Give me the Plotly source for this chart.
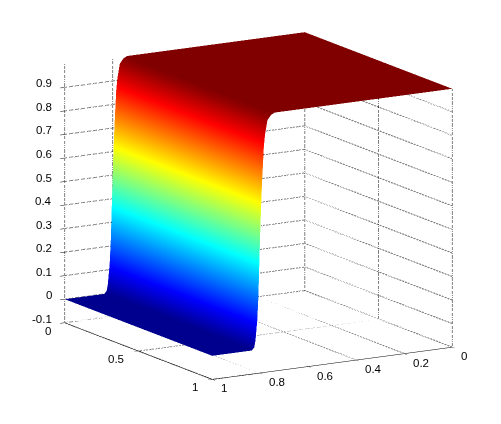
import plotly.graph_objects as go

# values: step profile along x, same for every y
x_grid = [0, 0.74, 0.755, 0.77, 0.78, 0.785, 0.79, 0.795, 0.80, 0.808, 0.8125, 0.82, 0.825, 0.835, 1]
profile = [0.998, 0.998, 0.99, 0.97, 0.91, 0.86, 0.76, 0.65, 0.5, 0.22, 0.124, 0.04, 0.012, 0, 0]
y_grid = [0, 1]

x_ticks = [0, 0.2, 0.4, 0.6, 0.8, 1]
y_ticks = [0, 0.5, 1]
z_ticks = [-0.1, 0, 0.1, 0.2, 0.3, 0.4, 0.5, 0.6, 0.7, 0.8, 0.9]
z_min = -0.1
z_max = 1

MATLAB_JET = [
    [0, 'rgb(0,0,143)'],
    [0.111, 'rgb(0,0,255)'],
    [0.365, 'rgb(0,255,255)'],
    [0.619, 'rgb(255,255,0)'],
    [0.873, 'rgb(255,0,0)'],
    [1, 'rgb(128,0,0)'],
]
FONT = 'Liberation Sans'
SCALE = 388 / 283
CENTER_Z = -0.035


def grid_line(xs, ys, zs):
    return go.Scatter3d(
        x=xs, y=ys, z=zs,
        mode='lines',
        line=dict(color='black', width=2, dash='dot'),
        hoverinfo='skip',
        showlegend=False,
    )


def tick_label(x, y, z, text, anchor, dx, dy):
    return dict(
        x=x, y=y, z=z,
        text=text,
        showarrow=False,
        xanchor=anchor,
        xshift=dx,
        yshift=dy,
        font=dict(family=FONT, size=11.5, color='black'),
    )


fig = go.Figure()

fig.add_trace(go.Surface(
    x=x_grid,
    y=y_grid,
    z=[profile, profile],
    surfacecolor=[profile, profile],
    colorscale=MATLAB_JET,
    cmin=0,
    cmax=1,
    showscale=False,
    lighting=dict(ambient=1, diffuse=0, specular=0, roughness=1, fresnel=0),
    hoverinfo='skip',
))

# dotted grid on the two back walls and the floor
for t in x_ticks:
    fig.add_trace(grid_line([t, t], [0, 0], [z_min, z_max]))
    fig.add_trace(grid_line([t, t], [0, 1], [z_min, z_min]))
for t in y_ticks:
    fig.add_trace(grid_line([0, 0], [t, t], [z_min, z_max]))
    fig.add_trace(grid_line([0, 1], [t, t], [z_min, z_min]))
for t in z_ticks:
    fig.add_trace(grid_line([0, 1], [0, 0], [t, t]))
    fig.add_trace(grid_line([0, 0], [0, 1], [t, t]))

labels = []
for t in x_ticks:
    labels.append(tick_label(t, 1, z_min, str(t), 'left', 7, -9))
for t in y_ticks:
    labels.append(tick_label(1, t, z_min, str(t), 'right', -12, -8))
for t in z_ticks:
    labels.append(tick_label(1, 0, t, str(t), 'right', -11, 4))

axis_style = dict(
    showgrid=False,
    zeroline=False,
    showbackground=False,
    showspikes=False,
    showline=True,
    linecolor='black',
    linewidth=1,
    ticks='outside',
    ticklen=5,
    tickcolor='black',
    showticklabels=False,
    title=dict(text=''),
)

fig.update_layout(
    width=501,
    height=424,
    margin=dict(l=0, r=0, t=0, b=0),
    paper_bgcolor='white',
    showlegend=False,
    scene=dict(
        domain=dict(x=[0, 1], y=[15 / 424, 1]),
        aspectmode='manual',
        aspectratio=dict(x=0.995 * SCALE, y=1.035 * SCALE, z=0.948 * SCALE),
        camera=dict(
            projection=dict(type='orthographic'),
            eye=dict(x=0.496 * 2, y=0.839 * 2, z=0.227 * 2 + CENTER_Z),
            center=dict(x=0, y=0, z=CENTER_Z),
            up=dict(x=0, y=0, z=1),
        ),
        xaxis=dict(axis_style, range=[0, 1], tickvals=x_ticks),
        yaxis=dict(axis_style, range=[0, 1], tickvals=y_ticks),
        zaxis=dict(axis_style, range=[z_min, z_max], tickvals=z_ticks, showline=False),
        annotations=labels,
    ),
)

fig.write_html("out.html")
